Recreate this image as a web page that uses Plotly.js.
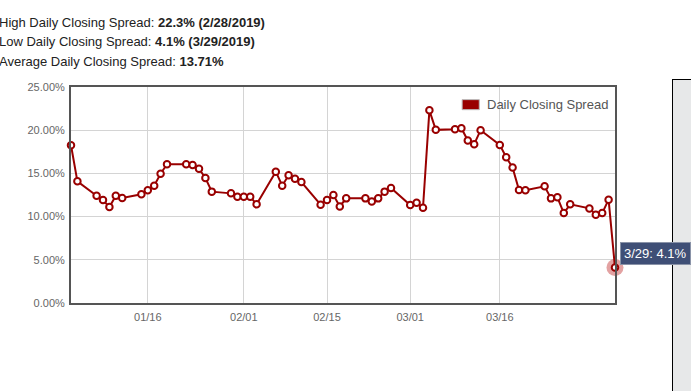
<!DOCTYPE html>
<html>
<head>
<meta charset="utf-8">
<script src="https://cdn.plot.ly/plotly-3.0.1.min.js"></script>
<style>
  html, body { margin: 0; padding: 0; background: #ffffff; width: 691px; height: 391px; overflow: hidden; }
  body { position: relative; font-family: "Liberation Sans", Arial, sans-serif; }
  #panel { position: absolute; left: 672px; top: 79px; width: 40px; height: 330px; background: #e7e8e9; border-left: 1px solid #000; border-top: 1px solid #000; }
  .hdr { position: absolute; left: -1px; font-size: 13px; color: #222; white-space: nowrap; line-height: 16px; }
  #chart { position: absolute; left: 0; top: 0; width: 691px; height: 391px; }
</style>
</head>
<body>
<div id="panel"></div>
<div class="hdr" id="h1" style="top:15px"></div>
<div class="hdr" id="h2" style="top:34px"></div>
<div class="hdr" id="h3" style="top:54px"></div>
<div id="chart"></div>
<script>
// ---- data ----
const dates = [
  '2019-01-03','2019-01-04',
  '2019-01-07','2019-01-08','2019-01-09','2019-01-10','2019-01-11',
  '2019-01-14','2019-01-15','2019-01-16','2019-01-17','2019-01-18',
  '2019-01-21','2019-01-22','2019-01-23','2019-01-24','2019-01-25',
  '2019-01-28','2019-01-29','2019-01-30','2019-01-31','2019-02-01',
  '2019-02-04','2019-02-05','2019-02-06','2019-02-07','2019-02-08',
  '2019-02-11','2019-02-12','2019-02-13','2019-02-14','2019-02-15',
  '2019-02-18','2019-02-19','2019-02-20','2019-02-21','2019-02-22',
  '2019-02-25','2019-02-26','2019-02-27','2019-02-28','2019-03-01',
  '2019-03-04','2019-03-05','2019-03-06','2019-03-07','2019-03-08',
  '2019-03-11','2019-03-12','2019-03-13','2019-03-14','2019-03-15',
  '2019-03-18','2019-03-19','2019-03-20','2019-03-21','2019-03-22',
  '2019-03-25','2019-03-26','2019-03-27','2019-03-28','2019-03-29'
];
const spread = [
  18.26, 14.08,
  12.42, 11.92, 11.10, 12.42, 12.15,
  12.58, 13.04, 13.58, 14.97, 16.06,
  16.06, 15.98, 15.55, 14.47, 12.89,
  12.69, 12.31, 12.31, 12.31, 11.42,
  15.20, 13.58, 14.78, 14.39, 14.00,
  11.38, 11.92, 12.50, 11.18, 12.11,
  12.11, 11.76, 12.11, 12.89, 13.31,
  11.34, 11.61, 11.03, 22.30, 20.04,
  20.12, 20.23, 18.80, 18.38, 20.00,
  18.30, 16.87, 15.67, 13.07, 13.04,
  13.50, 12.11, 12.23, 10.41, 11.42,
  10.95, 10.22, 10.41, 11.96, 4.10
];
const tickDates = ['2019-01-15','2019-01-30','2019-02-12','2019-02-25','2019-03-11'];
const tickLabels = ['01/16','02/01','02/15','03/01','03/16'];
const yTicks = [0, 5, 10, 15, 20, 25];
const yTickLabels = ['0.00%','5.00%','10.00%','15.00%','20.00%','25.00%'];
const seriesName = 'Daily Closing Spread';
const headerLines = [
  ['High Daily Closing Spread: ', '22.3% (2/28/2019)'],
  ['Low Daily Closing Spread: ', '4.1% (3/29/2019)'],
  ['Average Daily Closing Spread: ', '13.71%']
];
const hoverLabel = '3/29: 4.1%';

// ---- header ----
['h1','h2','h3'].forEach((id, i) => {
  const el = document.getElementById(id);
  el.innerHTML = headerLines[i][0] + '<b>' + headerLines[i][1] + '</b>';
});

const red = '#990000';
const last = dates.length - 1;

const traces = [
  { // hover halo
    x: [dates[last]], y: [spread[last]], type: 'scatter', mode: 'markers',
    marker: { size: 17, color: 'rgba(200,70,70,0.5)' },
    showlegend: false, hoverinfo: 'skip', cliponaxis: false
  },
  {
    x: dates, y: spread, type: 'scatter', mode: 'lines+markers', name: seriesName,
    line: { color: red, width: 2 },
    marker: { size: 6.5, color: '#ffffff', line: { color: red, width: 2 } },
    showlegend: false, cliponaxis: false
  }
];

const layout = {
  width: 691, height: 391,
  margin: { l: 71, r: 76, t: 87, b: 88, pad: 0 },
  paper_bgcolor: 'rgba(0,0,0,0)',
  plot_bgcolor: '#ffffff',
  font: { family: '"Liberation Sans", Arial, sans-serif', size: 11, color: '#666' },
  showlegend: false,
  xaxis: {
    type: 'date',
    range: [dates[0], dates[last]],
    tickvals: tickDates, ticktext: tickLabels,
    showgrid: true, gridcolor: '#d4d4d4', gridwidth: 1,
    showline: true, mirror: true, linecolor: '#555', linewidth: 2,
    ticks: '', zeroline: false,
    ticklabelstandoff: 3,
    tickfont: { size: 11, color: '#666' }
  },
  yaxis: {
    range: [0, 25],
    tickvals: yTicks, ticktext: yTickLabels,
    showgrid: true, gridcolor: '#d4d4d4', gridwidth: 1,
    showline: true, mirror: true, linecolor: '#555', linewidth: 2,
    ticks: '', zeroline: false,
    ticklabelstandoff: 2,
    tickfont: { size: 11, color: '#666' }
  },
  shapes: [
    { type: 'rect', xref: 'paper', yref: 'paper',
      x0: 0.719, x1: 0.7505, y0: 0.895, y1: 0.9415,
      fillcolor: red, line: { color: '#bbbbbb', width: 1 } }
  ],
  annotations: [
    { xref: 'paper', yref: 'paper', x: 0.761, y: 0.918, xanchor: 'left', yanchor: 'middle',
      text: seriesName, showarrow: false, font: { size: 13, color: '#555' } },
    { x: dates[last], y: spread[last], xref: 'x', yref: 'y',
      xanchor: 'left', yanchor: 'bottom', xshift: 5, yshift: 3,
      text: hoverLabel, showarrow: false,
      font: { size: 13, color: '#ffffff' },
      bgcolor: '#3f4f76', bordercolor: '#8a93a8', borderwidth: 1, borderpad: 3 }
  ]
};

Plotly.newPlot('chart', traces, layout, { displayModeBar: false, staticPlot: true });
</script>
</body>
</html>
